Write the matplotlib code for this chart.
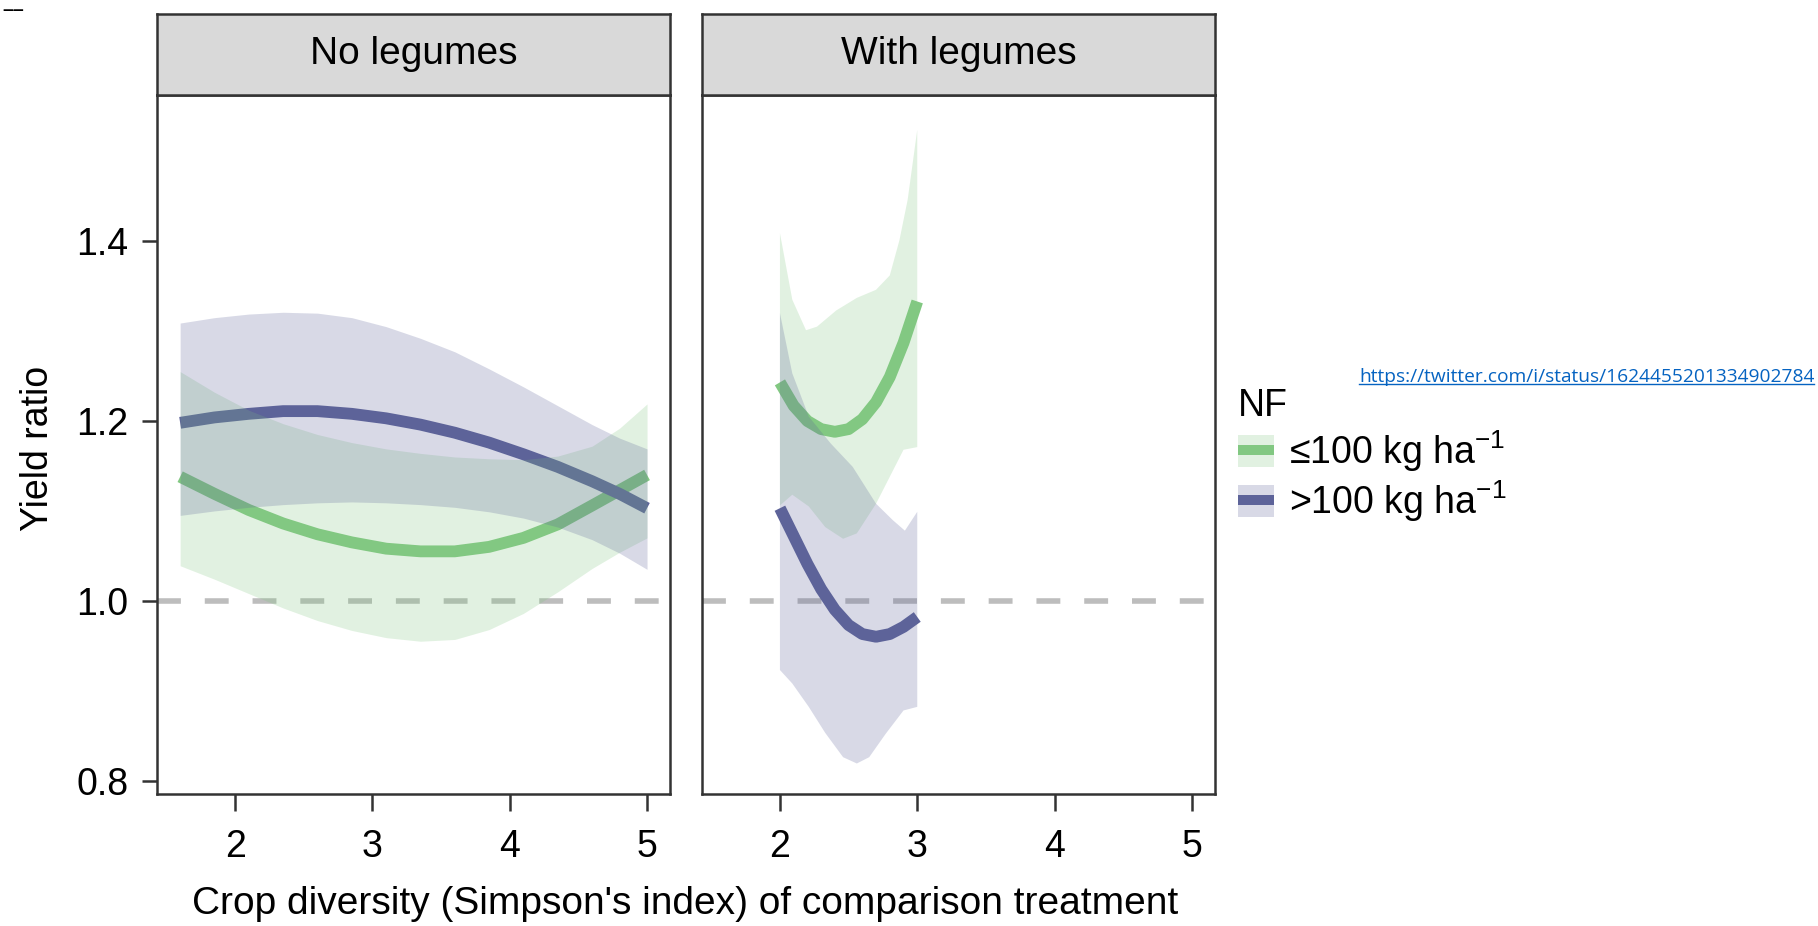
import numpy as np
import matplotlib
matplotlib.use('Agg')
import matplotlib.pyplot as plt
from matplotlib.patches import Patch
from matplotlib.lines import Line2D

plt.rcParams['font.family'] = ['Liberation Sans', 'DejaVu Sans']
plt.rcParams['mathtext.fontset'] = 'custom'
plt.rcParams['mathtext.rm'] = 'Liberation Sans'
plt.rcParams['mathtext.it'] = 'Liberation Sans:italic'
plt.rcParams['mathtext.bf'] = 'Liberation Sans:bold'

panels = ['No legumes', 'With legumes']
groups = ['≤100 kg ha$^{-1}$', '>100 kg ha$^{-1}$']
x_ticks = [2, 3, 4, 5]
y_ticks = [0.8, 1.0, 1.2, 1.4]
url = 'https://twitter.com/i/status/1624455201334902784'

# --- No legumes: fitted curves with bands
x_no = [1.6, 1.85, 2.1, 2.35, 2.6, 2.85, 3.1, 3.35, 3.6, 3.85, 4.1, 4.35, 4.6, 4.8, 5.0]
low_fit_no = [1.138, 1.119, 1.101, 1.086, 1.074, 1.065, 1.058, 1.055, 1.055, 1.060,
              1.070, 1.085, 1.106, 1.123, 1.140]
low_up_no = [1.255, 1.232, 1.212, 1.197, 1.185, 1.176, 1.169, 1.164, 1.160, 1.158,
             1.157, 1.161, 1.172, 1.192, 1.219]
low_lo_no = [1.039, 1.024, 1.008, 0.992, 0.978, 0.967, 0.959, 0.955, 0.957, 0.968,
             0.986, 1.010, 1.036, 1.054, 1.070]
high_fit_no = [1.198, 1.204, 1.208, 1.211, 1.211, 1.208, 1.203, 1.196, 1.187, 1.176,
               1.163, 1.149, 1.133, 1.119, 1.103]
high_up_no = [1.309, 1.315, 1.319, 1.321, 1.320, 1.315, 1.305, 1.292, 1.277, 1.258,
              1.238, 1.217, 1.196, 1.181, 1.169]
high_lo_no = [1.095, 1.100, 1.104, 1.107, 1.109, 1.110, 1.109, 1.107, 1.104, 1.099,
              1.092, 1.082, 1.068, 1.053, 1.035]

# --- With legumes
x_with = [2.0, 2.1, 2.2, 2.3, 2.4, 2.5, 2.6, 2.7, 2.8, 2.9, 3.0]
low_fit_with = [1.243, 1.217, 1.200, 1.191, 1.188, 1.191, 1.202, 1.221, 1.249, 1.287, 1.333]
high_fit_with = [1.103, 1.072, 1.041, 1.013, 0.990, 0.973, 0.963, 0.960, 0.963, 0.971, 0.982]

low_up_x = [2.0, 2.09, 2.19, 2.27, 2.41, 2.56, 2.70, 2.80, 2.87, 2.93, 3.0]
low_up_with = [1.409, 1.335, 1.301, 1.305, 1.323, 1.337, 1.346, 1.362, 1.401, 1.446, 1.524]
low_lo_x = [2.0, 2.09, 2.21, 2.33, 2.46, 2.56, 2.70, 2.80, 2.90, 3.0]
low_lo_with = [1.106, 1.118, 1.105, 1.082, 1.069, 1.075, 1.108, 1.138, 1.168, 1.171]
high_up_x = [2.0, 2.09, 2.21, 2.37, 2.53, 2.70, 2.82, 2.91, 3.0]
high_up_with = [1.320, 1.253, 1.205, 1.175, 1.149, 1.108, 1.090, 1.078, 1.099]
high_lo_x = [2.0, 2.09, 2.21, 2.33, 2.46, 2.56, 2.65, 2.77, 2.90, 3.0]
high_lo_with = [0.923, 0.908, 0.882, 0.853, 0.826, 0.819, 0.826, 0.852, 0.878, 0.882]

green = '#82c882'
purple = '#5d6399'
edge = '#333333'
band_alpha = 0.24

fig = plt.figure(figsize=(18.18, 9.26), dpi=100)
lefts = [0.0864, 0.3861]
W, B, H = 0.2822, 0.1425, 0.7549

axes = []
for i, name in enumerate(panels):
    ax = fig.add_axes([lefts[i], B, W, H])
    ax.set_xlim(1.432, 5.168)
    ax.set_ylim(0.785, 1.5627)
    ax.axhline(1.0, color='#bdbdbd', lw=4, ls=(0, (4.3, 4.3)), zorder=1)
    for s in ax.spines.values():
        s.set_color(edge)
        s.set_linewidth(1.8)
    ax.set_xticks(x_ticks)
    ax.tick_params(axis='x', length=12, width=1.8, pad=13, color=edge, labelsize=27)
    if i == 0:
        ax.set_yticks(y_ticks)
        ax.set_yticklabels([f'{v:.1f}' for v in y_ticks])
        ax.tick_params(axis='y', length=10.8, width=1.8, pad=10, color=edge, labelsize=27)
    else:
        ax.set_yticks([])
    axes.append(ax)

    strip = fig.add_axes([lefts[i], 0.8974, W, 0.0875])
    strip.set_facecolor('#d9d9d9')
    strip.set_xticks([])
    strip.set_yticks([])
    for s in strip.spines.values():
        s.set_color(edge)
        s.set_linewidth(1.8)
    strip.text(0.5, 0.5, name, ha='center', va='center', fontsize=28, transform=strip.transAxes)

# no legumes
ax = axes[0]
ax.plot(x_no, low_fit_no, color=green, lw=8.5, solid_capstyle='butt', zorder=2)
ax.plot(x_no, high_fit_no, color=purple, lw=8.5, solid_capstyle='butt', zorder=2)
ax.fill_between(x_no, low_lo_no, low_up_no, color=green, alpha=band_alpha, lw=0, zorder=3)
ax.fill_between(x_no, high_lo_no, high_up_no, color=purple, alpha=band_alpha, lw=0, zorder=3)

# with legumes
ax = axes[1]
ax.plot(x_with, low_fit_with, color=green, lw=8.5, solid_capstyle='butt', zorder=2)
ax.plot(x_with, high_fit_with, color=purple, lw=8.5, solid_capstyle='butt', zorder=2)
ax.fill(np.r_[low_up_x, low_lo_x[::-1]], np.r_[low_up_with, low_lo_with[::-1]],
        color=green, alpha=band_alpha, lw=0, zorder=3)
ax.fill(np.r_[high_up_x, high_lo_x[::-1]], np.r_[high_up_with, high_lo_with[::-1]],
        color=purple, alpha=band_alpha, lw=0, zorder=3)

fig.text(0.021, 0.516, 'Yield ratio', rotation=90, ha='center', va='center', fontsize=27)
fig.text(0.377, 0.024, "Crop diversity (Simpson's index) of comparison treatment",
         ha='center', va='center', fontsize=28)

handles = []
for c in [green, purple]:
    handles.append((Patch(facecolor=c, alpha=band_alpha, lw=0),
                    Line2D([], [], color=c, lw=7.2, solid_capstyle='butt')))
fig.legend(handles=handles, labels=groups, title='NF', loc='upper left',
           bbox_to_anchor=(0.681, 0.581), frameon=False, fontsize=27, title_fontsize=27,
           handlelength=0.95, handleheight=0.95, handletextpad=0.4, labelspacing=0.12,
           alignment='left', borderpad=0, borderaxespad=0)

link = fig.text(0.7475, 0.5929, url, fontsize=13, color='#0563c1', family='Open Sans',
                va='center')
fig.text(0.0015, 0.998, '––', fontsize=14, fontweight='bold', va='top')

# fit the link to its width in the reference, then underline it
fig.canvas.draw()
bb = link.get_window_extent()
link.set_fontsize(13 * 455 / bb.width)
fig.canvas.draw()
bb = link.get_window_extent()
fw, fh = fig.bbox.width, fig.bbox.height
fig.add_artist(Line2D([bb.x0 / fw, bb.x1 / fw], [(bb.y0 + 2) / fh] * 2,
                      color='#0563c1', lw=1, transform=fig.transFigure))

fig.savefig('out.png', dpi=100)
